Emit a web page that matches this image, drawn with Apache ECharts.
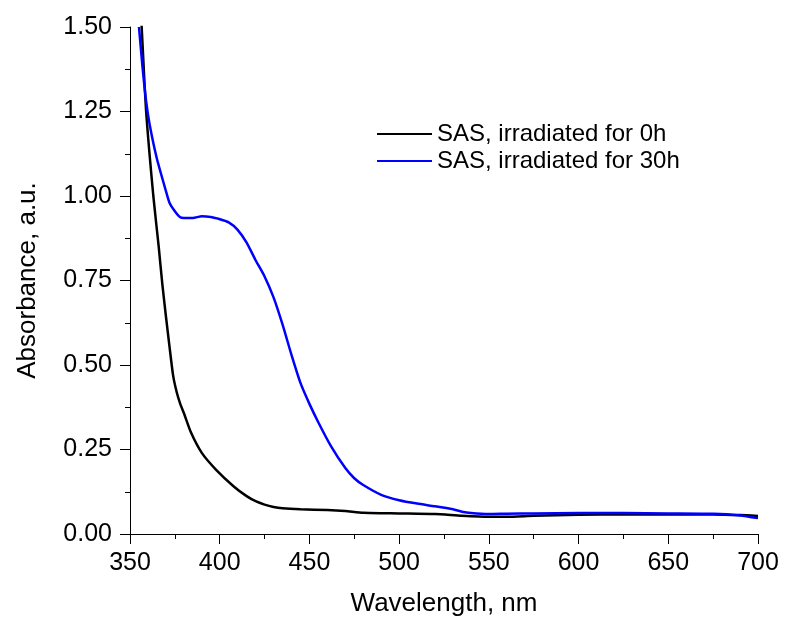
<!DOCTYPE html>
<html>
<head>
<meta charset="utf-8">
<script src="https://cdn.jsdelivr.net/npm/echarts@6/dist/echarts.min.js"></script>
<style>
  html, body { margin: 0; padding: 0; background: #fff; }
  #chart { width: 786px; height: 622px; }
</style>
</head>
<body>
<div id="chart"></div>
<script>
// SAS, irradiated for 0h
const wl0 = [354, 356.5, 359, 363, 366, 368, 370, 372, 374, 376, 378, 380, 384, 390, 398, 408, 415, 420, 425, 430, 435, 445, 460, 470, 480, 500, 520, 535, 550, 560, 575, 600, 625, 650, 675, 690, 700];
const abs0 = [1.75, 1.50, 1.25, 1.00, 0.85, 0.74, 0.645, 0.555, 0.47, 0.42, 0.385, 0.358, 0.30, 0.24, 0.19, 0.14, 0.112, 0.097, 0.087, 0.080, 0.076, 0.073, 0.071, 0.068, 0.063, 0.061, 0.059, 0.054, 0.051, 0.051, 0.054, 0.057, 0.058, 0.058, 0.058, 0.056, 0.053];

// SAS, irradiated for 30h
const wl30 = [355, 357, 359, 361, 365, 370, 372, 375, 378, 380, 385, 390, 395, 399, 405, 410, 415, 420, 425, 430, 435, 440, 445, 450, 455, 462, 470, 475, 480, 490, 500, 510, 520, 530, 535, 540, 550, 560, 575, 600, 625, 650, 675, 690, 700];
const abs30 = [1.50, 1.38, 1.28, 1.21, 1.11, 1.015, 0.98, 0.955, 0.937, 0.935, 0.935, 0.940, 0.938, 0.933, 0.922, 0.90, 0.862, 0.81, 0.762, 0.70, 0.62, 0.53, 0.447, 0.385, 0.33, 0.26, 0.195, 0.165, 0.145, 0.116, 0.10, 0.09, 0.082, 0.073, 0.066, 0.062, 0.059, 0.060, 0.061, 0.062, 0.062, 0.061, 0.060, 0.055, 0.047];

const seriesNames = ['SAS, irradiated for 0h', 'SAS, irradiated for 30h'];
const xTicks = { min: 350, max: 700, interval: 50 };
const yTicks = { min: 0, max: 1.5, interval: 0.25 };

const font = "'Liberation Sans', Arial, sans-serif";
const zip = (xs, ys) => xs.map((x, i) => [x, ys[i]]);

let myChart = echarts.init(document.getElementById('chart'));
myChart.setOption({
  animation: false,
  textStyle: { fontFamily: font },
  grid: { left: 130, right: 28, top: 27, bottom: 88 },
  legend: {
    orient: 'vertical',
    left: 372,
    top: 117,
    icon: 'rect',
    itemWidth: 55,
    itemHeight: 2,
    itemGap: 3,
    textStyle: { fontFamily: font, fontSize: 24, color: '#000', lineHeight: 24 },
    data: seriesNames
  },
  xAxis: {
    type: 'value',
    min: xTicks.min,
    max: xTicks.max,
    interval: xTicks.interval,
    name: 'Wavelength, nm',
    nameLocation: 'middle',
    nameGap: 57,
    nameTextStyle: { fontSize: 26, color: '#000', fontFamily: font },
    axisLine: { lineStyle: { color: '#000', width: 1 } },
    axisTick: { length: 10, lineStyle: { color: '#000' } },
    minorTick: { show: true, splitNumber: 2, length: 5, lineStyle: { color: '#000' } },
    axisLabel: { fontSize: 25, color: '#000', margin: 17, fontFamily: font },
    splitLine: { show: false }
  },
  yAxis: {
    type: 'value',
    min: yTicks.min,
    max: yTicks.max,
    interval: yTicks.interval,
    name: 'Absorbance, a.u.',
    nameLocation: 'middle',
    nameGap: 89,
    nameTextStyle: { fontSize: 26, color: '#000', fontFamily: font },
    axisLine: { show: true, lineStyle: { color: '#000', width: 1 } },
    axisTick: { show: true, length: 10, lineStyle: { color: '#000' } },
    minorTick: { show: true, splitNumber: 2, length: 5, lineStyle: { color: '#000' } },
    axisLabel: {
      fontSize: 25, color: '#000', margin: 18, fontFamily: font,
      formatter: v => v.toFixed(2)
    },
    splitLine: { show: false }
  },
  series: [
    {
      name: seriesNames[0],
      type: 'line',
      data: zip(wl0, abs0),
      showSymbol: false,
      smooth: 0.2,
      clip: true,
      lineStyle: { color: '#000', width: 2.5 },
      itemStyle: { color: '#000' }
    },
    {
      name: seriesNames[1],
      type: 'line',
      data: zip(wl30, abs30),
      showSymbol: false,
      smooth: 0.2,
      clip: true,
      lineStyle: { color: '#0000ff', width: 2.5 },
      itemStyle: { color: '#0000ff' }
    }
  ]
});
</script>
</body>
</html>
